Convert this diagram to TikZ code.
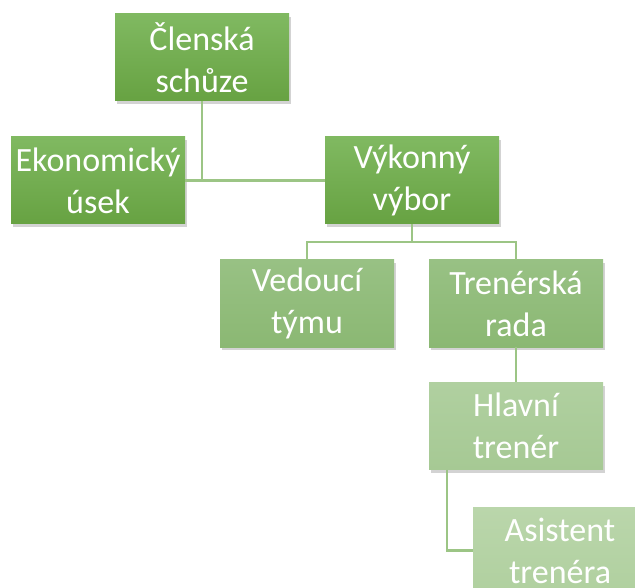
\documentclass[tikz,border=0pt]{standalone}
\usepackage{fontspec}
\setmainfont{Carlito}
\usetikzlibrary{shadows,calc}
\definecolor{lineg}{HTML}{9CC585}
\definecolor{lonetop}{HTML}{80B961}
\definecolor{lonebot}{HTML}{67A242}
\definecolor{ltwotop}{HTML}{98C184}
\definecolor{ltwobot}{HTML}{8BB873}
\definecolor{lthrtop}{HTML}{B0D0A0}
\definecolor{lthrbot}{HTML}{A6C994}
\definecolor{lfourtop}{HTML}{BAD6AB}
\definecolor{lfourbot}{HTML}{B0D09F}
\tikzset{
  orgbox/.style={rectangle, minimum width=174pt, minimum height=87pt, inner sep=0pt,
    align=center, text=white, font=\fontsize{34}{42}\selectfont,
    drop shadow={opacity=0.35, shadow xshift=2pt, shadow yshift=-3pt}},
  levone/.style={orgbox, top color=lonetop, bottom color=lonebot},
  levtwo/.style={orgbox, top color=ltwotop, bottom color=ltwobot},
  levthr/.style={orgbox, top color=lthrtop, bottom color=lthrbot},
  levfour/.style={orgbox, top color=lfourtop, bottom color=lfourbot},
  conn/.style={draw=lineg, line width=2.6pt}
}
\begin{document}
\begin{tikzpicture}[x=1pt,y=-1pt]
\useasboundingbox (0,0) rectangle (635,588);
% connectors first
\coordinate (csb) at (202,101);
\coordinate (ekr) at (185,181);
\coordinate (vvl) at (325,181);
\node[levone] (cs) at (202,57.5) {Členská\\schůze};
\node[levone] (ek) at (98,180.5) {Ekonomický\\úsek};
\node[levone] (vv) at (412,180.5) {Výkonný\\výbor};
\node[levtwo] (vt) at (307,303.5) {Vedoucí\\týmu};
\node[levtwo] (tr) at (516,303.5) {Trenérská\\rada};
\node[levthr] (ht) at (516,426) {Hlavní\\trenér};
\node[levfour] (at) at (560,550.5) {Asistent\\trenéra};
\begin{scope}[on background layer/.try]
\end{scope}
\draw[conn] (cs.south) -- (cs.south |- ek.east);
\draw[conn] (ek.east) -- (vv.west);
\draw[conn] (vv.south) -- ++(0,18) coordinate (vvj) -| (vt.north);
\draw[conn] (vvj) -| (tr.north);
\draw[conn] (tr.south) -- (ht.north);
\draw[conn] ([xshift=18pt]ht.south west) |- (at.west);
\end{tikzpicture}
\end{document}
